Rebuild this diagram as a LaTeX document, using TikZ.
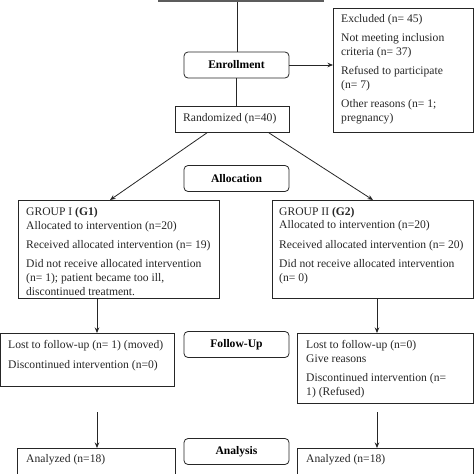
\documentclass[tikz,border=0pt]{standalone}
\usepackage{fontspec}
\setmainfont{Liberation Serif}
\usetikzlibrary{calc,arrows.meta}
\definecolor{ink}{gray}{0.15}
\tikzset{
  box/.style={draw=ink, line width=0.8pt, rectangle, inner sep=0pt, anchor=north west},
  rbox/.style={draw=ink, line width=0.8pt, rounded corners=4pt, minimum width=105pt, minimum height=26pt, inner sep=0pt, font=\fontsize{11.6}{13.7}\selectfont\bfseries},
  txt/.style={align=left, inner sep=0pt, anchor=base west, font=\fontsize{11.6}{13.7}\selectfont, text=ink},
  conn/.style={draw=ink, line width=0.8pt},
  arr/.style={conn, -{Stealth[length=5.5pt,width=4.5pt]}},
}
\begin{document}
\begin{tikzpicture}[x=1pt,y=-1pt]
\useasboundingbox (0,0) rectangle (474,474);
% top box (only bottom edge visible)
\fill[gray!40!black!80] (158,-4) rectangle (324,2.3);
\coordinate (topc) at (237,2);
% Enrollment
\node[rbox] (enr) at (236.5,65) {Enrollment};
\draw[conn] (topc) -- (topc |- enr.north);
% Excluded (texts anchored at the baseline of their last line)
\node[box, minimum width=140pt, minimum height=124pt] (exc) at (333,8) {};
\node[txt] (exct) at (341,121) {Excluded (n= 45)\\[5.6pt]Not meeting inclusion\\criteria (n= 37)\\[5.6pt]Refused to participate\\(n= 7)\\[5.6pt]Other reasons (n= 1;\\pregnancy)};
\draw[arr] (enr.east) -- (enr.east -| exc.west);
% Randomized
\node[box, minimum width=114pt, minimum height=26pt] (rand) at (175,106) {};
\node[txt] (randt) at (183,121) {Randomized (n=40)};
\draw[conn] (enr.south) -- (enr.south |- rand.north);
% Allocation
\node[rbox] (alloc) at (236.5,178.5) {Allocation};
% Groups
\node[box, minimum width=201pt, minimum height=98pt] (g1) at (18,200) {};
\node[txt] (g1t) at (26,295) {GROUP I \textbf{(G1)}\\Allocated to intervention (n=20)\\[5.6pt]Received allocated intervention (n= 19)\\[5.6pt]Did not receive allocated intervention\\(n= 1); patient became too ill,\\discontinued treatment.};
\node[box, minimum width=201pt, minimum height=98pt] (g2) at (272,200) {};
\node[txt] (g2t) at (279,281) {GROUP II \textbf{(G2)}\\Allocated to intervention (n=20)\\[5.6pt]Received allocated intervention (n= 20)\\[5.6pt]Did not receive allocated intervention\\(n= 0)};
\coordinate (r1) at ($(rand.south west)+(32,0)$);
\coordinate (r2) at ($(rand.south east)+(-21,0)$);
\coordinate (t1) at ($(g1.north west)+(92,0)$);
\coordinate (t2) at ($(g2.north west)+(101,0)$);
\draw[arr] (r1) -- (t1);
\draw[arr] (r2) -- (t2);
% Follow-up
\node[rbox] (fu) at (236.5,344.5) {Follow-Up};
\node[box, minimum width=174pt, minimum height=53pt] (f1) at (0,333) {};
\node[txt] (f1t) at (8,368) {Lost to follow-up (n= 1) (moved)\\[5.6pt]Discontinued intervention (n=0)};
\node[box, minimum width=176pt, minimum height=70pt] (f2) at (297,333) {};
\node[txt] (f2t) at (306,395) {Lost to follow-up (n=0)\\Give reasons\\[5.6pt]Discontinued intervention (n=\\1) (Refused)};
\coordinate (d1) at ($(g1.south west)+(79,0)$);
\coordinate (d2) at ($(g2.south west)+(105,0)$);
\draw[arr] (d1) -- (d1 |- f1.north);
\draw[arr] (d2) -- (d2 |- f2.north);
% Analysis
\node[rbox] (ana) at (236.5,451.5) {Analysis};
\node[box, minimum width=158pt, minimum height=60pt] (a1) at (17,448) {};
\node[txt] (a1t) at (26,462) {Analyzed (n=18)};
\node[box, minimum width=176pt, minimum height=60pt] (a2) at (297,448) {};
\node[txt] (a2t) at (306,462) {Analyzed (n=18)};
\coordinate (s1) at (97,412);
\coordinate (s2) at (377,412);
\draw[arr] (s1) -- (s1 |- a1.north);
\draw[arr] (s2) -- (s2 |- a2.north);
\end{tikzpicture}
\end{document}
